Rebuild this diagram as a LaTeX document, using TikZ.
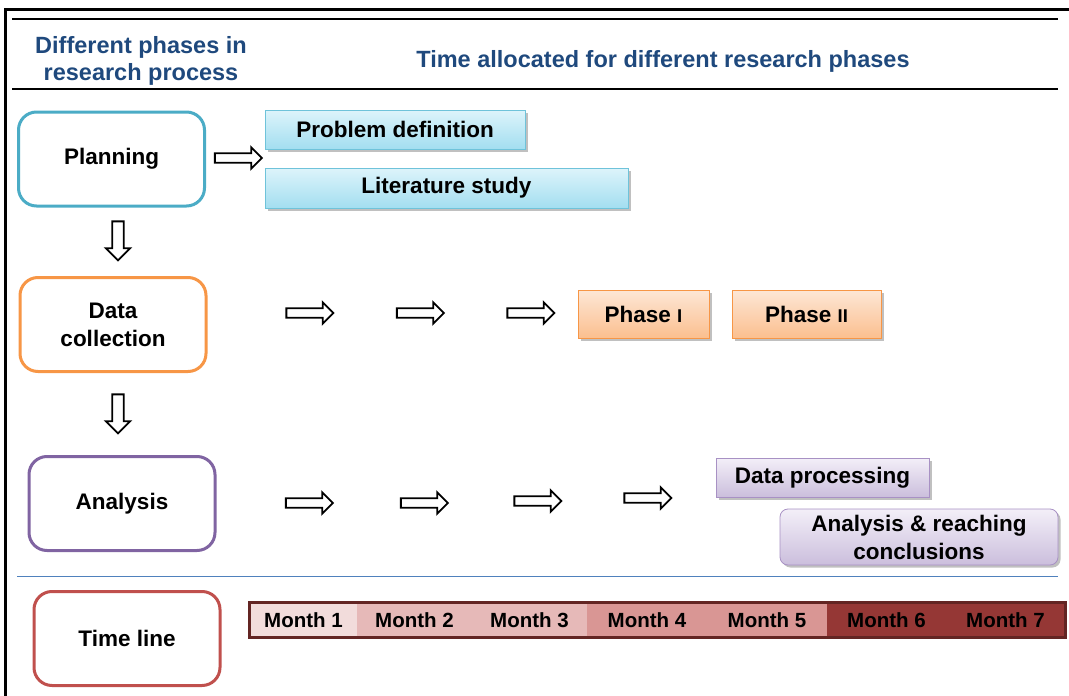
\documentclass[tikz,border=0pt]{standalone}
\usepackage{fontspec}
\setmainfont{Liberation Sans}
\usetikzlibrary{shapes.arrows,shadows}

\definecolor{hdrblue}{HTML}{1F497D}
\definecolor{planC}{HTML}{4BACC6}
\definecolor{dataC}{HTML}{F79646}
\definecolor{anaC}{HTML}{8064A2}
\definecolor{timeC}{HTML}{C0504D}
\definecolor{sepblue}{HTML}{4F81BD}
\definecolor{barborder}{HTML}{632523}
\definecolor{mA}{HTML}{F2DCDB}
\definecolor{mB}{HTML}{E6B9B8}
\definecolor{mC}{HTML}{D99694}
\definecolor{mD}{HTML}{953735}
\definecolor{cyanTop}{HTML}{DDF4FB}
\definecolor{cyanBot}{HTML}{A3DEF0}
\definecolor{cyanLine}{HTML}{6FC3DA}
\definecolor{orTop}{HTML}{FDE7D6}
\definecolor{orBot}{HTML}{FBBF8F}
\definecolor{puTop}{HTML}{F3EFF8}
\definecolor{puBot}{HTML}{CBBEDC}
\definecolor{puLine}{HTML}{A891C4}

% small capital roman numerals for the phase labels
\newcommand{\romsmall}[1]{{\fontsize{18.5}{20}\selectfont #1}}

\begin{document}
\begin{tikzpicture}[x=1pt,y=-1pt,
  phasebox/.style={draw, line width=3pt, rounded corners=18pt, fill=white,
    minimum width=186pt, minimum height=94pt, align=center,
    font=\bfseries\fontsize{22.5}{28}\selectfont},
  taskbox/.style={draw, line width=0.8pt, align=center,
    font=\bfseries\fontsize{22.5}{28}\selectfont,
    drop shadow={shadow xshift=2.5pt, shadow yshift=-2.5pt, opacity=0.45, fill=black!55}},
  cyantask/.style={taskbox, draw=cyanLine, top color=cyanTop, bottom color=cyanBot},
  orangetask/.style={taskbox, draw=dataC, top color=orTop, bottom color=orBot},
  purpletask/.style={taskbox, draw=puLine, top color=puTop, bottom color=puBot},
  rightarrow/.style={single arrow, draw=black, fill=white, line width=1.8pt,
    inner xsep=0pt, inner ysep=3.8pt, single arrow head extend=6pt,
    minimum height=47pt},
  downarrow/.style={single arrow, draw=black, fill=white, line width=1.8pt,
    shape border rotate=270, inner xsep=4.8pt, inner ysep=0pt,
    single arrow head extend=6.5pt, minimum height=39pt},
  header/.style={text=hdrblue, align=center, font=\bfseries\fontsize{23.5}{27}\selectfont},
  month/.style={minimum height=35pt, inner sep=0pt,
    font=\bfseries\fontsize{20.5}{22}\selectfont}
]
\useasboundingbox (0,0) rectangle (1069,696);

% outer frame and header rules
\draw[line width=3pt] (5,697) -- (5,9) -- (1070,9);
\draw[line width=2.4pt] (12,19) -- (1058,19);
\draw[line width=2.4pt] (12,89) -- (1058,89);
\draw[sepblue, line width=1pt] (17,576) -- (1058,576);

% header texts
\node[header] (hleft) at (141,61) {Different phases in\\research process};
\node[header] (hright) at (663,61) {Time allocated for different research phases};

% phase boxes on the left
\node[phasebox, draw=planC] (plan) at (111.5,159) {Planning};
\node[phasebox, draw=dataC] (data) at (113,324.5) {Data\\collection};
\node[phasebox, draw=anaC] (ana) at (122,503.5) {Analysis};
\node[phasebox, draw=timeC] (time) at (127,638.5) {Time line};

% block arrows between the phases
\node[downarrow] (d1) at (118,238) {};
\node[downarrow] (d2) at (118,411) {};

% planning row
\node[rightarrow] (p1) at (236,158) {};
\node[cyantask, minimum width=260pt, minimum height=39pt] (probdef) at (395,129.5) {Problem definition};
\node[cyantask, minimum width=363pt, minimum height=40pt] (litstudy) at (446.5,188) {Literature study};

% data collection row
\node[rightarrow] (c1) at (307.5,313) {};
\node[rightarrow] (c2) at (418,313) {};
\node[rightarrow] (c3) at (528.5,313) {};
\node[orangetask, minimum width=131pt, minimum height=48pt] (ph1) at (643.5,314) {Phase \romsmall{I}};
\node[orangetask, minimum width=149pt, minimum height=48pt] (ph2) at (806.5,314) {Phase \romsmall{II}};

% analysis row
\node[rightarrow] (a1) at (307,503) {};
\node[rightarrow] (a2) at (422,503) {};
\node[rightarrow] (a3) at (535.5,501) {};
\node[rightarrow] (a4) at (645.5,498) {};
\node[purpletask, minimum width=213pt, minimum height=39pt] (dproc) at (822.5,477.5) {Data processing};
\node[purpletask, rounded corners=8pt, minimum width=278pt, minimum height=56pt] (concl) at (919,537) {Analysis \& reaching\\conclusions};

% time line bar
\node[month, fill=mA, minimum width=107pt] (m1) at (303.5,620) {Month 1};
\node[month, fill=mB, minimum width=115pt] (m2) at (414.5,620) {Month 2};
\node[month, fill=mB, minimum width=115pt] (m3) at (529.5,620) {Month 3};
\node[month, fill=mC, minimum width=120pt] (m4) at (647,620) {Month 4};
\node[month, fill=mC, minimum width=120pt] (m5) at (767,620) {Month 5};
\node[month, fill=mD, minimum width=119pt] (m6) at (886.5,620) {Month 6};
\node[month, fill=mD, minimum width=119pt] (m7) at (1005.5,620) {Month 7};
\draw[barborder, line width=3pt] (m1.north west) rectangle (m7.south east);
\end{tikzpicture}
\end{document}
